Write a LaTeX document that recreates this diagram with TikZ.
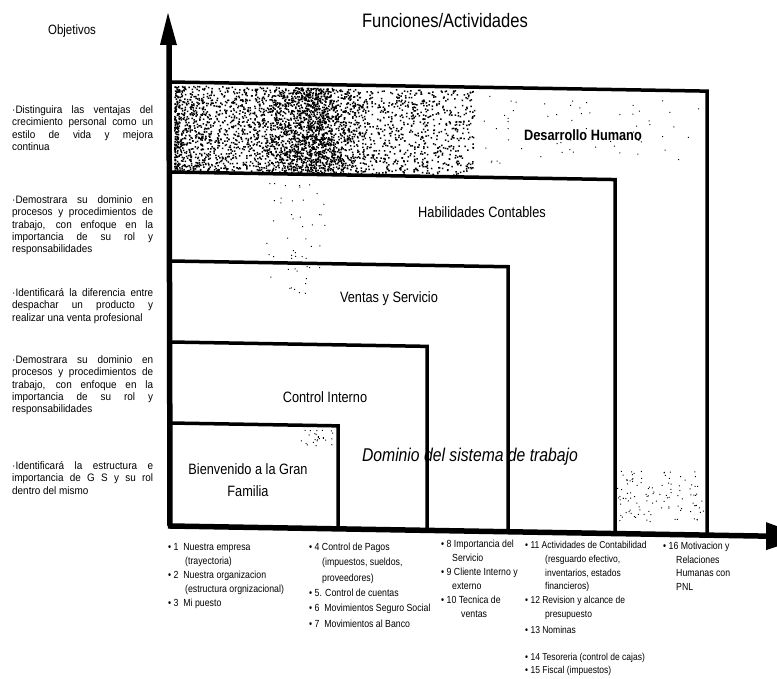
\documentclass[tikz,border=0pt]{standalone}
\usepackage{fontspec}
\setmainfont{Liberation Sans}
\newfontfamily\nar[FakeStretch=0.85]{Liberation Sans}
\newfontfamily\lft[FakeStretch=0.92]{Liberation Sans}
\begin{document}
\begin{tikzpicture}[x=1pt,y=-1pt,line join=miter]
\tikzset{
 boxline/.style={line width=3.5pt,draw=black},
 axisline/.style={line width=5.5pt,draw=black},
 lab/.style={inner sep=0pt,font=\nar\fontsize{15}{18}\selectfont},
 objtxt/.style={anchor=base west,inner sep=0pt,text width=141pt,align=justify,font=\lft\fontsize{10.8}{12.3}\selectfont},
 coltxt/.style={anchor=north west,inner sep=0pt,align=left,font=\nar\fontsize{10.3}{14}\selectfont}
}
\useasboundingbox (0,0) rectangle (777,679);
\clip (0,0) rectangle (777,679);

\begin{scope}[shift={(170,0)},yslant=-0.017,shift={(-170,0)}]
 % stipple of the scan
 \pgfmathsetseed{12}
 \foreach \i in {1,...,2300}{
   \pgfmathsetmacro\xx{174+300*pow(rnd,1.5)}
   \pgfmathsetmacro\yy{85+85*rnd}
   \fill (\xx,\yy) rectangle ++(1.5,1.5);
 }
 \foreach \i in {1,...,1300}{
   \pgfmathsetmacro\xx{250+60*(rnd+rnd)}
   \pgfmathsetmacro\yy{85+85*rnd}
   \fill (\xx,\yy) rectangle ++(1.5,1.5);
 }
 \foreach \i in {1,...,110}{
   \pgfmathsetmacro\xx{617+86*rnd}
   \pgfmathsetmacro\yy{462+52*rnd}
   \fill (\xx,\yy) rectangle ++(1,1);
 }
 \foreach \i in {1,...,60}{
   \pgfmathsetmacro\xx{480+220*rnd}
   \pgfmathsetmacro\yy{90+70*rnd}
   \fill (\xx,\yy) rectangle ++(1,1);
 }
 \foreach \i in {1,...,50}{
   \pgfmathsetmacro\xx{265+60*rnd}
   \pgfmathsetmacro\yy{178+115*rnd}
   \fill (\xx,\yy) rectangle ++(1,1);
 }
 \foreach \i in {1,...,25}{
   \pgfmathsetmacro\xx{300+35*rnd}
   \pgfmathsetmacro\yy{427+18*rnd}
   \fill (\xx,\yy) rectangle ++(1,1);
 }

 % nested boxes
 \coordinate (o) at (170,526);
 \draw[boxline] (170,82) -- (707,82) -- (707,526);
 \draw[boxline] (170,172) -- (615,172) -- (615,526);
 \draw[boxline] (170,261) -- (508,261) -- (508,526);
 \draw[boxline] (170,342) -- (427,342) -- (427,526);
 \draw[boxline] (170,423) -- (338,423) -- (338,526);

 % axes
 \coordinate (ytop) at (169,40);
 \coordinate (xend) at (768,526);
 \draw[axisline] (o) -- (ytop);
 \draw[axisline] (168,526) -- (xend);
 \fill (168,13) -- (177,45) -- (160,45) -- cycle;
 \fill (766,512) -- (806,526) -- (766,540) -- cycle;
\end{scope}

% titles
\node[inner sep=0pt,font=\nar\fontsize{13.5}{16}\selectfont] (obj) at (72,31) {Objetivos};
\node[inner sep=0pt,font=\nar\fontsize{19.5}{22}\selectfont] (fun) at (445,21) {Funciones/Actividades};

% box labels
\node[lab,font=\nar\bfseries\fontsize{15}{18}\selectfont] (dh) at (583,135) {Desarrollo Humano};
\node[lab] (hc) at (482,212) {Habilidades Contables};
\node[lab] (vs) at (389,299) {Ventas y Servicio};
\node[lab] (ci) at (325,397) {Control Interno};
\node[lab,align=center,font=\nar\fontsize{15}{22}\selectfont] (bv) at (248,480) {Bienvenido a la Gran\\Familia};
\node[inner sep=0pt,font=\nar\itshape\fontsize{18.5}{20}\selectfont] (dom) at (470,457) {Dominio del sistema de trabajo};

% objectives
\node[objtxt] (o1) at (12,113.6) {·Distinguira las ventajas del\linebreak crecimiento personal como un\linebreak estilo de vida y mejora\linebreak continua};
\node[objtxt] (o2) at (12,203.6) {·Demostrara su dominio en\linebreak procesos y procedimientos de\linebreak trabajo, con enfoque en la\linebreak importancia de su rol y\linebreak responsabilidades};
\node[objtxt] (o3) at (12,296.6) {·Identificará la diferencia entre\linebreak despachar un producto y\linebreak realizar una venta profesional};
\node[objtxt] (o4) at (12,363.6) {·Demostrara su dominio en\linebreak procesos y procedimientos de\linebreak trabajo, con enfoque en la\linebreak importancia de su rol y\linebreak responsabilidades};
\node[objtxt] (o5) at (12,469.6) {·Identificará la estructura e\linebreak importancia de G S y su rol\linebreak dentro del mismo};

% activities
\node[coltxt] (c1) at (168,543) {•~1~~Nuestra empresa\\\hspace*{17pt}(trayectoria)\\•~2~~Nuestra organizacion\\\hspace*{17pt}(estructura orgnizacional)\\•~3~~Mi puesto};
\node[coltxt,font=\nar\fontsize{10.3}{15.3}\selectfont] (c2) at (309,543) {•~4 Control de Pagos\\\hspace*{13pt}(impuestos, sueldos,\\\hspace*{13pt}proveedores)\\•~5. Control de cuentas\\•~6~~Movimientos Seguro Social\\•~7~~Movimientos al Banco};
\node[coltxt] (c3) at (441,540) {•~8 Importancia del\\\hspace*{11pt}Servicio\\•~9 Cliente Interno y\\\hspace*{11pt}externo\\•~10 Tecnica de\\\hspace*{20pt}ventas};
\node[coltxt,font=\nar\fontsize{10}{13.8}\selectfont] (c4) at (525,541) {•~11 Actividades de Contabilidad\\\hspace*{20pt}(resguardo efectivo,\\\hspace*{20pt}inventarios, estados\\\hspace*{20pt}financieros)\\•~12 Revision y alcance de\\\hspace*{20pt}presupuesto\\[2pt]•~13 Nominas\\[13pt]•~14 Tesoreria (control de cajas)\\•~15 Fiscal (impuestos)};
\node[coltxt,font=\nar\fontsize{10.3}{13.5}\selectfont] (c5) at (663,542) {•~16 Motivacion y\\\hspace*{13pt}Relaciones\\\hspace*{13pt}Humanas con\\\hspace*{13pt}PNL};
\end{tikzpicture}
\end{document}
